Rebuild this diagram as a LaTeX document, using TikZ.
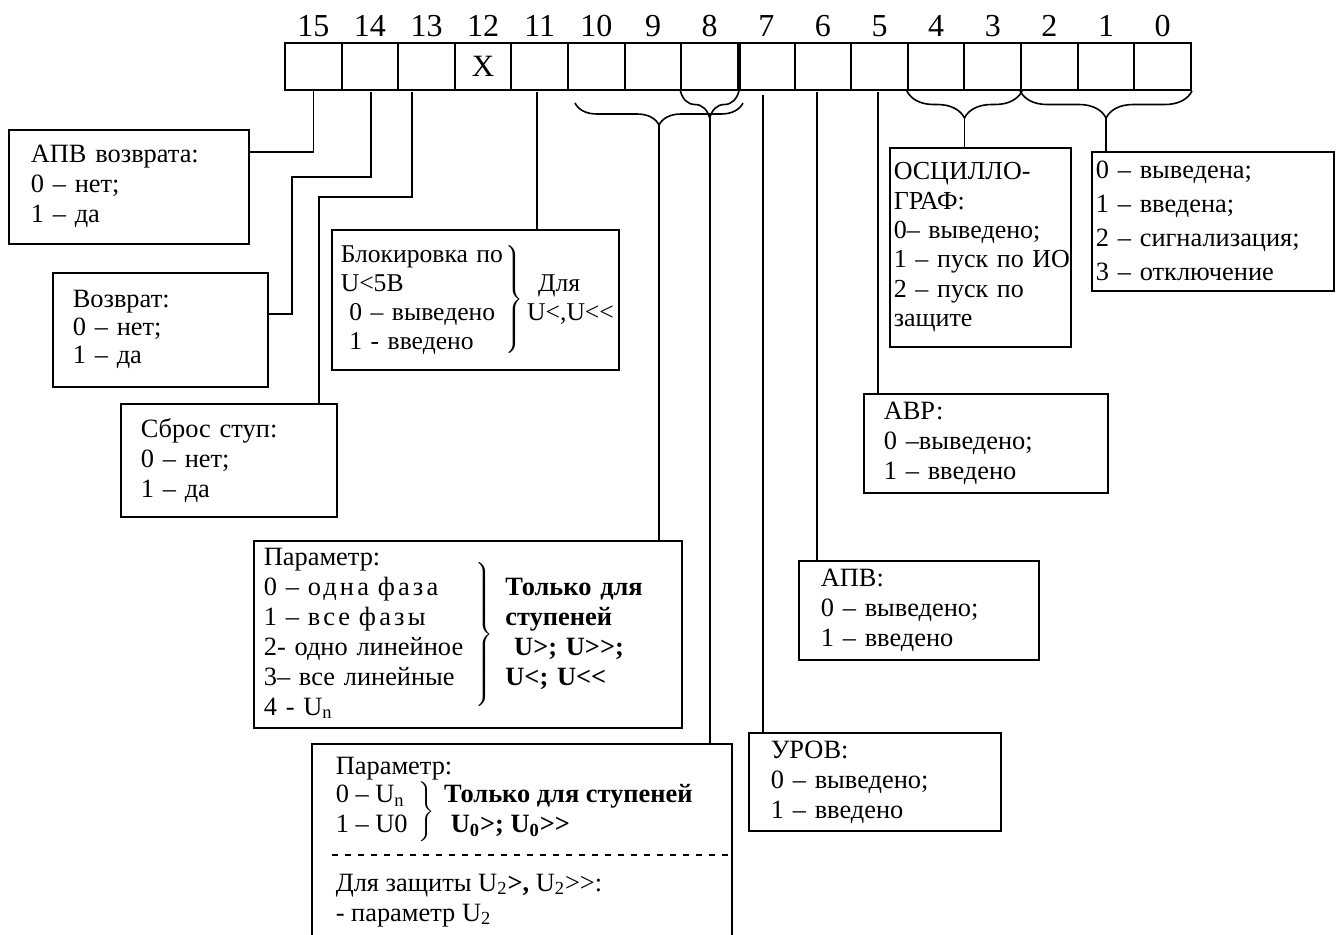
\documentclass[tikz,border=0pt]{standalone}
\usepackage{fontspec}
\setmainfont{Liberation Serif}
\newfontfamily\spacedfont[LetterSpace=12]{Liberation Serif}
\usetikzlibrary{decorations.pathreplacing}
\tikzstyle{cell} = [rectangle, draw, line width=1pt, minimum width=28.31pt, minimum height=23.5pt, inner sep=0pt, font=\fontsize{15.5}{17}\selectfont]
\tikzstyle{bitno} = [anchor=base, inner sep=0pt, font=\fontsize{16}{18}\selectfont]
\tikzstyle{infobox} = [rectangle, draw, line width=0.8pt, anchor=north west, align=left, inner ysep=0pt, font=\fontsize{13.2}{15}\selectfont]
\tikzstyle{curly} = [decorate, decoration={brace, mirror, amplitude=13.5pt}, line width=0.8pt]
\tikzstyle{link} = [line width=0.75pt]

\begin{document}
\begin{tikzpicture}[x=0.5pt, y=-0.5pt]
\useasboundingbox (0,0) rectangle (1341,934);

\foreach \i in {0,...,15} {
  \node (b\i) [cell] at ({313.3+(15-\i)*56.625}, 66.5) {\ifnum\i=12 X\fi};
  \node (n\i) [bitno] at ({313.3+(15-\i)*56.625}, 36) {\i};
}

\node (apvv) [infobox, minimum height=57pt, text width=98pt, inner xsep=11pt] at (8,129)
  {АПВ возврата:\\0 – нет;\\1 – да};
\node (vozvrat) [infobox, minimum height=57pt, text width=87.5pt, inner xsep=10pt, font=\fontsize{13.2}{14}\selectfont] at (52,272)
  {Возврат:\\0 – нет;\\1 – да};
\node (sbros) [infobox, minimum height=56.5pt, text width=88pt, inner xsep=10pt] at (120,403)
  {Сброс ступ:\\0 – нет;\\1 – да};
\node (blok) [infobox, minimum height=70pt, text width=134.5pt, inner xsep=4.5pt, font=\fontsize{12.8}{14.5}\selectfont] at (331,229)
  {\mbox{\begin{tabular}{@{}l@{}}Блокировка по\\U<5В\\\ 0 – выведено\\\ 1 - введено\end{tabular}$\left.\vphantom{\begin{tabular}{l}x\\x\\x\\x\end{tabular}}\right\}$\hspace{2pt}\begin{tabular}{@{}l@{}}\hspace{5.5pt}Для\\U<,U<{}<\end{tabular}}};
\node (param) [infobox, minimum height=93.5pt, text width=204pt, inner xsep=5pt] at (253,540)
  {\mbox{\begin{tabular}{@{}l@{}}Параметр:\\0 {\spacedfont –~одна фаза}\\1 {\spacedfont –~все фазы}\\2- одно линейное\\3– все линейные\\4 - U\textsubscript{n}\end{tabular}\hspace{5pt}$\left.\vphantom{\begin{tabular}{l}x\\x\\x\\x\\x\end{tabular}}\right\}$\hspace{6pt}\begin{tabular}{@{}l@{}}\textbf{Только для}\\\textbf{ступеней}\\\textbf{\ U>; U>{}>;}\\\textbf{U<; U<{}<}\end{tabular}}};
\node (paramzero) [infobox, inner xsep=12pt, inner ysep=6.5pt] at (311,743)
  {\begin{minipage}[t][100pt][t]{186pt}
   Параметр:\\
   \mbox{\begin{tabular}{@{}l@{}}0 – U\textsubscript{n}\\1 – U0\end{tabular}\hspace{4pt}$\left.\vphantom{\begin{tabular}{l}x\\x\end{tabular}}\right\}$\hspace{5pt}\begin{tabular}{@{}l@{}}\textbf{Только для ступеней}\\\textbf{\ U\textsubscript{0}>; U\textsubscript{0}>{}>}\end{tabular}}\\[15pt]
   Для защиты U\textsubscript{2}\textbf{>,} U\textsubscript{2}>{}>:\\
   - параметр U\textsubscript{2}
   \end{minipage}};
\node (oscill) [infobox, minimum height=99.5pt, text width=86.5pt, inner xsep=2pt, font=\fontsize{13}{14.7}\selectfont] at (889,147)
  {ОСЦИЛЛО-\\ГРАФ:\\0– выведено;\\\mbox{1 – пуск по ИО}\\2 – пуск по\\защите};
\node (rezhim) [infobox, minimum height=69.5pt, text width=117pt, inner xsep=2pt, font=\fontsize{13.2}{17}\selectfont] at (1091,151)
  {0 – выведена;\\1 – введена;\\\mbox{2 – сигнализация;}\\3 – отключение};
\node (avr) [infobox, minimum height=49.5pt, text width=102pt, inner xsep=10pt] at (863,393)
  {АВР:\\0 –выведено;\\1 – введено};
\node (apv) [infobox, minimum height=49.5pt, text width=98pt, inner xsep=11pt] at (798,560)
  {АПВ:\\0 – выведено;\\1 – введено};
\node (urov) [infobox, minimum height=49pt, text width=104pt, inner xsep=11pt] at (748,732)
  {УРОВ:\\0 – выведено;\\1 – введено};

\coordinate (g1) at (575,103);
\coordinate (g2) at (743,103);
\coordinate (t10) at (659,125);
\coordinate (t8) at (710,116);
\coordinate (t43) at (964.5,117);
\coordinate (t20) at (1106,117);
\coordinate (e15) at (313.3,152);
\coordinate (s14) at (371,92);
\coordinate (e14) at (292,177);
\coordinate (f14) at (292,314);
\coordinate (s13) at (412,92);
\coordinate (e13) at (319,197);
\coordinate (s11) at (537,92);
\coordinate (s7) at (763,95);
\coordinate (s6) at (817,92);
\coordinate (s5) at (878,92);
\coordinate (d1) at (332,855);

%%% drawing %%%%%%%%%%%%%%%%%%%%%%%
\draw [line width=2pt] (b8.north east) -- (b8.south east);
\draw [curly] (b8.south west) -- (b8.south east);
\draw [curly, decoration={brace, mirror, amplitude=11pt}] (g1) -- (g2);
\draw [curly] (b4.south west) -- (b3.south east);
\draw [curly] (b2.south west) -- (b0.south east);

\draw [link] (b15.south) -- (e15) -- (e15 -| apvv.east);
\draw [link] (s14) |- (e14) -- (f14) -- (f14 -| vozvrat.east);
\draw [link] (s13) |- (e13) -- (e13 |- sbros.north);
\draw [link] (s11) -- (s11 |- blok.north);
\draw [link] (t10) -- (t10 |- param.north);
\draw [link] (t8) -- (t8 |- paramzero.north);
\draw [link] (s7) -- (s7 |- urov.north);
\draw [link] (s6) -- (s6 |- apv.north);
\draw [link] (s5) -- (s5 |- avr.north);
\draw [link] (t43) -- (t43 |- oscill.north);
\draw [link] (t20) -- (t20 |- rezhim.north);
\draw [link, dash pattern=on 3pt off 3.5pt] (d1) -- (d1 -| paramzero.east);
\end{tikzpicture}
\end{document}
